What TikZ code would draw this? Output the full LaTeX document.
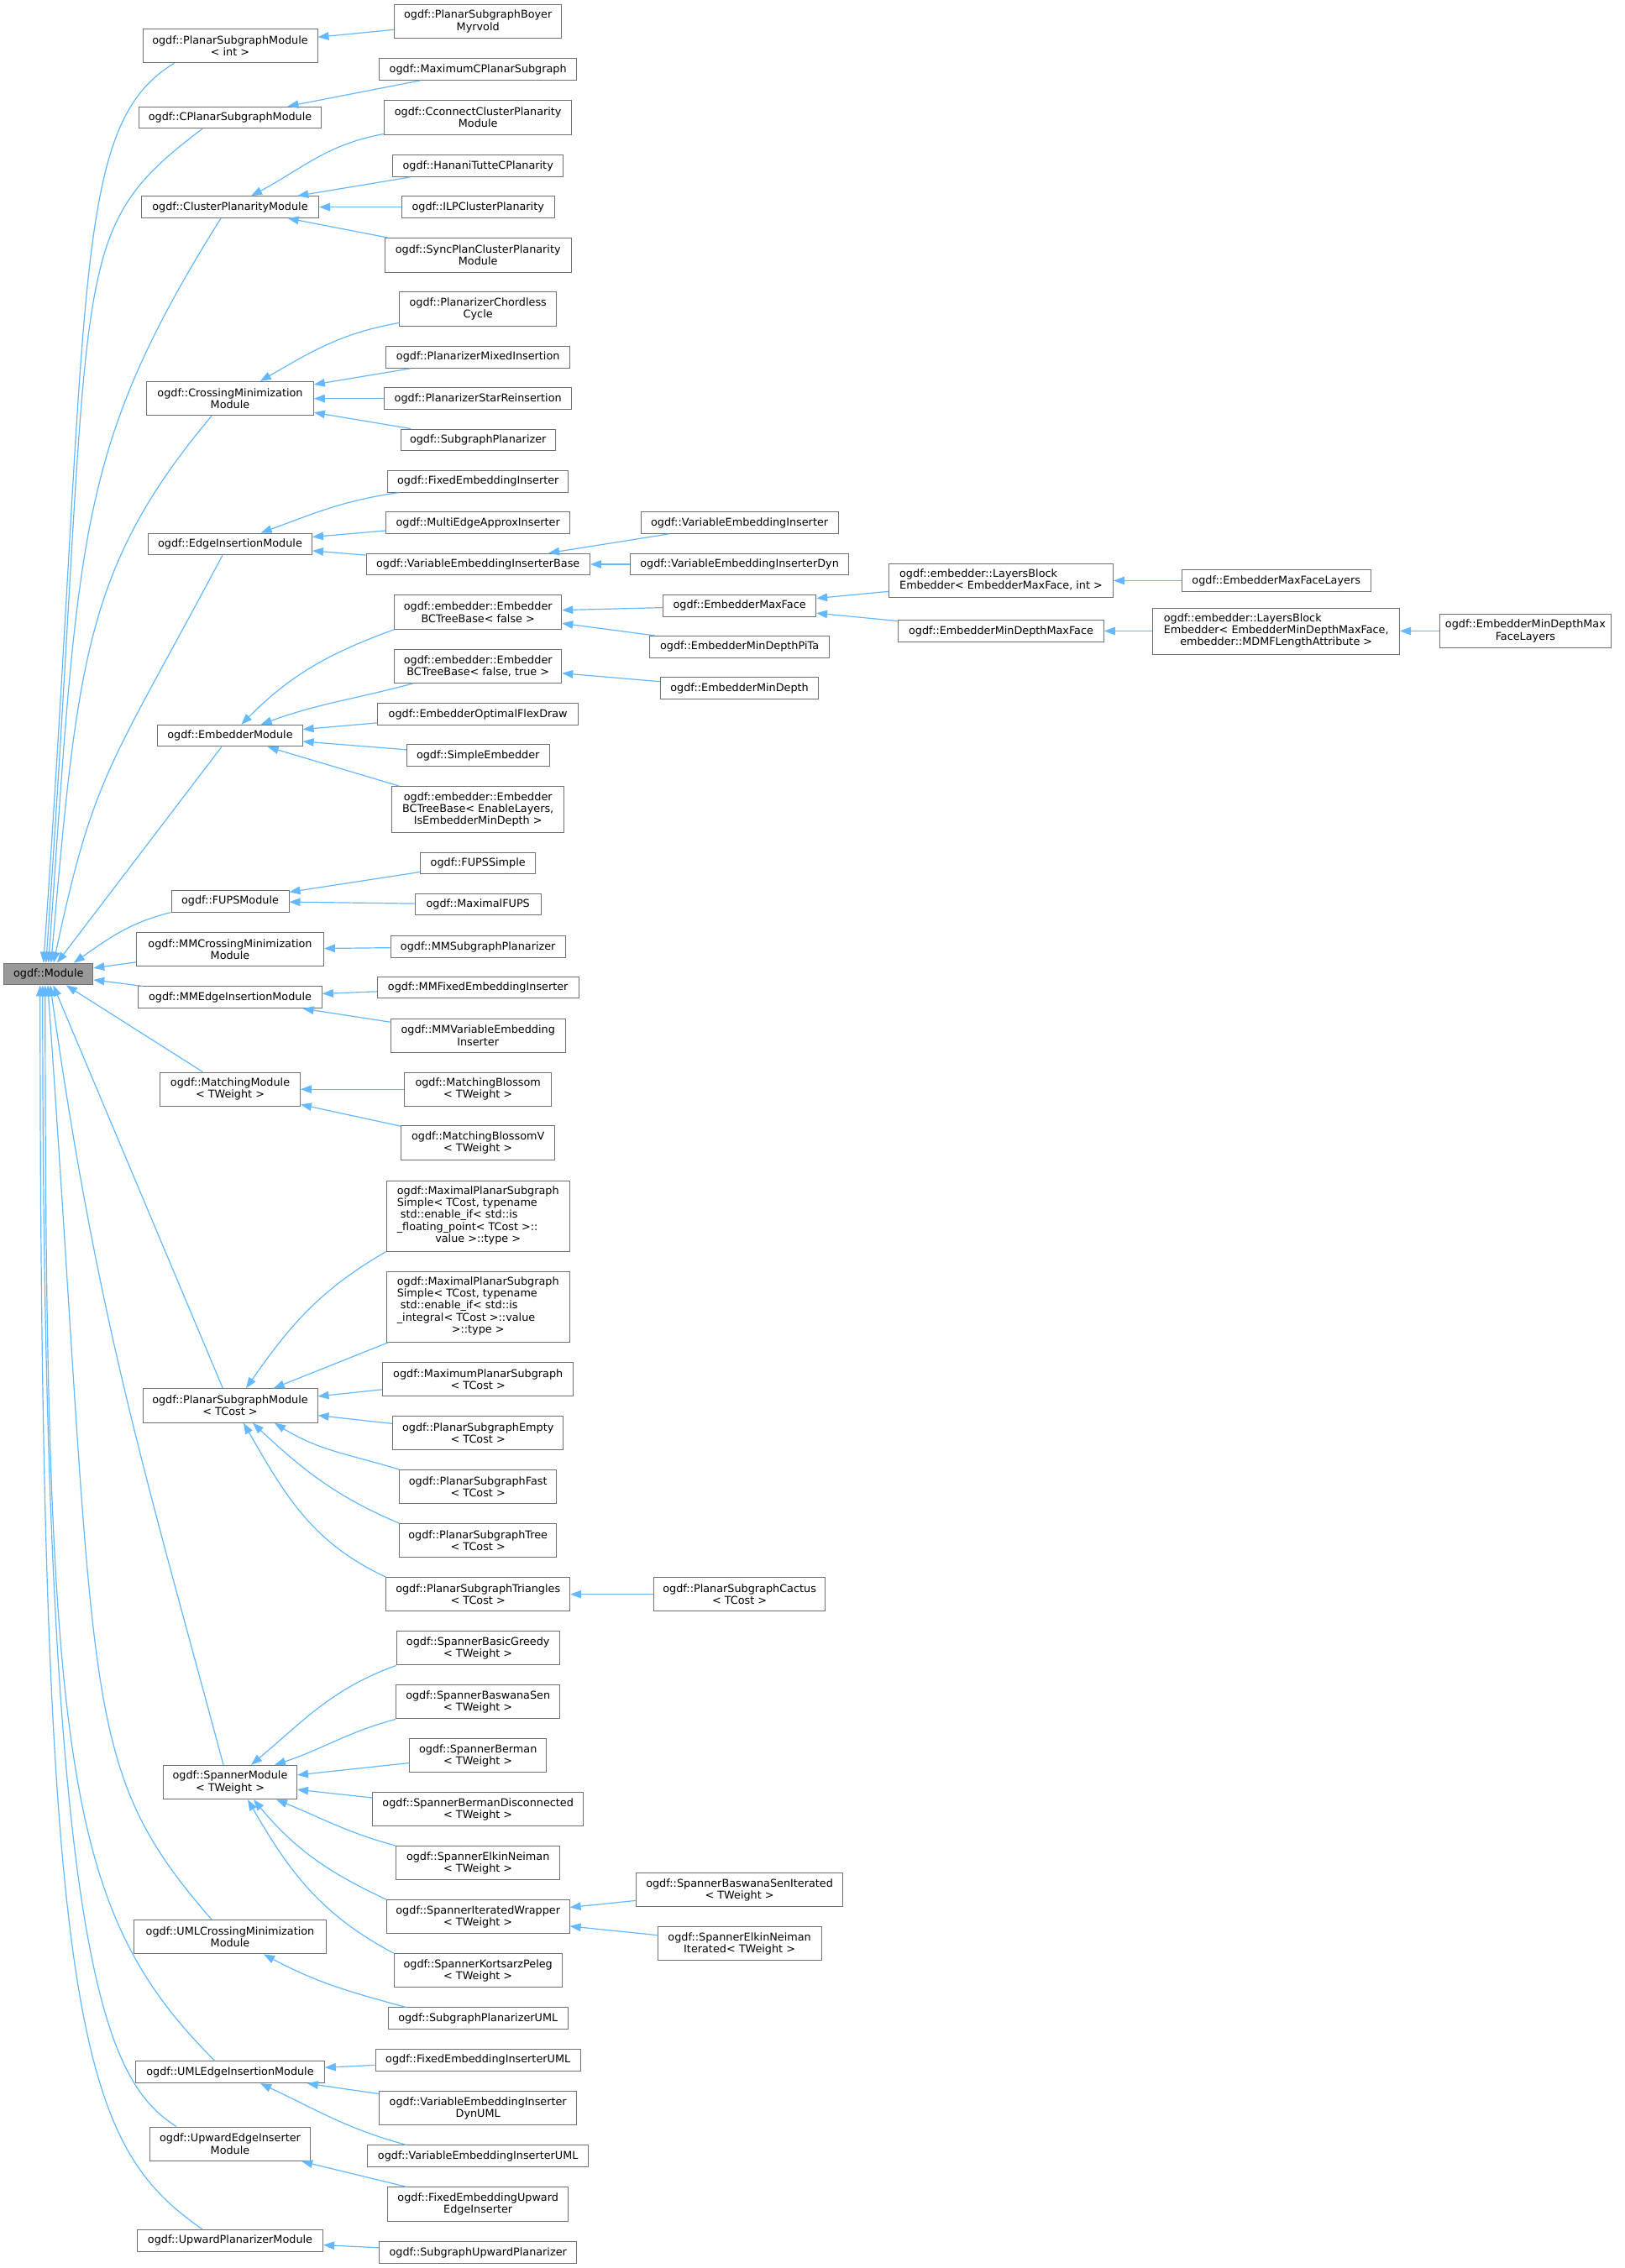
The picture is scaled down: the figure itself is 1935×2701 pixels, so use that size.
\documentclass[tikz,border=0pt]{standalone}
\usepackage{fontspec}
\setmainfont{DejaVu Sans}
\usetikzlibrary{arrows.meta}
\definecolor{edgeblue}{HTML}{63B8FF}
\definecolor{boxgray}{HTML}{707070}
\definecolor{rootfill}{HTML}{999999}
\newcommand{\leftlines}[1]{\begin{tabular}{@{}l@{}}#1\end{tabular}}
\newcommand{\midline}[1]{\multicolumn{1}{@{}c@{}}{#1}}
\begin{document}
\begin{tikzpicture}[x=1pt,y=1pt,
  cls/.style={draw=boxgray, line width=1pt, rectangle, inner sep=1pt, align=center,
    font=\fontsize{12.8}{14.3}\selectfont},
  one/.style={cls, minimum height=25.7pt},
  two/.style={cls, minimum height=40.4pt},
  three/.style={cls, minimum height=55pt},
  five/.style={cls, minimum height=84pt},
  root/.style={one, fill=rootfill},
  inh/.style={draw=edgeblue, line width=1.2pt, -{Triangle[length=13pt,width=9.5pt]}}]
\fill[white] (0,0) rectangle (1935,-2701);
\useasboundingbox (0,0) rectangle (1935,-2701);

\node[root, minimum width=106pt] (module) at (57.8,-1160) {ogdf::Module};

\node[two, minimum width=208pt] (psmInt) at (274,-54.6) {ogdf::PlanarSubgraphModule\\< int >};
\node[one, minimum width=217.4pt] (cpsm) at (274,-140) {ogdf::CPlanarSubgraphModule};
\node[one, minimum width=211pt] (cpm) at (274,-246.6) {ogdf::ClusterPlanarityModule};
\node[two, minimum width=198.8pt] (cmm) at (274,-474.6) {ogdf::CrossingMinimization\\Module};
\node[one, minimum width=195pt] (eim) at (274,-647.9) {ogdf::EdgeInsertionModule};
\node[one, minimum width=172.3pt] (emb) at (274,-876.1) {ogdf::EmbedderModule};
\node[one, minimum width=140pt] (fups) at (274,-1073.2) {ogdf::FUPSModule};
\node[two, minimum width=222.8pt] (mmcm) at (274,-1130.7) {ogdf::MMCrossingMinimization\\Module};
\node[one, minimum width=218.7pt] (mmei) at (274,-1187.8) {ogdf::MMEdgeInsertionModule};
\node[two, minimum width=167pt] (match) at (274,-1297.2) {ogdf::MatchingModule\\< TWeight >};
\node[two, minimum width=208pt] (psmCost) at (274,-1674) {ogdf::PlanarSubgraphModule\\< TCost >};
\node[two, minimum width=159pt] (span) at (274,-2122.5) {ogdf::SpannerModule\\< TWeight >};
\node[two, minimum width=228.3pt] (umlcm) at (274,-2306.7) {ogdf::UMLCrossingMinimization\\Module};
\node[one, minimum width=224.7pt] (umlei) at (274,-2467.8) {ogdf::UMLEdgeInsertionModule};
\node[two, minimum width=190.9pt] (upei) at (274,-2553.3) {ogdf::UpwardEdgeInserter\\Module};
\node[one, minimum width=221.2pt] (upp) at (274,-2668.2) {ogdf::UpwardPlanarizerModule};

\node[two, minimum width=199pt] (boyer) at (569.2,-25.4) {ogdf::PlanarSubgraphBoyer\\Myrvold};
\node[one, minimum width=235pt] (maxcps) at (569.2,-82.5) {ogdf::MaximumCPlanarSubgraph};
\node[two, minimum width=222.8pt] (cconnect) at (569.2,-139.8) {ogdf::CconnectClusterPlanarity\\Module};
\node[one, minimum width=203pt] (hanani) at (569.2,-197.5) {ogdf::HananiTutteCPlanarity};
\node[one, minimum width=182pt] (ilp) at (569.2,-246.6) {ogdf::ILPClusterPlanarity};
\node[two, minimum width=222pt] (syncplan) at (569.2,-303.9) {ogdf::SyncPlanClusterPlanarity\\Module};
\node[two, minimum width=186.5pt] (chordless) at (569.2,-367.9) {ogdf::PlanarizerChordless\\Cycle};
\node[one, minimum width=219pt] (mixed) at (569.2,-425.4) {ogdf::PlanarizerMixedInsertion};
\node[one, minimum width=222.8pt] (starre) at (569.2,-474.6) {ogdf::PlanarizerStarReinsertion};
\node[one, minimum width=184pt] (subplan) at (569.2,-523.9) {ogdf::SubgraphPlanarizer};
\node[one, minimum width=214.5pt] (fixemb) at (569.2,-573.4) {ogdf::FixedEmbeddingInserter};
\node[one, minimum width=218.8pt] (multiedge) at (569.2,-622.5) {ogdf::MultiEdgeApproxInserter};
\node[one, minimum width=266.4pt] (varbase) at (569.2,-672) {ogdf::VariableEmbeddingInserterBase};
\node[two, minimum width=199pt] (bcfalse) at (569.2,-729.1) {ogdf::embedder::Embedder\\BCTreeBase< false >};
\node[two, minimum width=199pt] (bcfalsetrue) at (569.2,-793.2) {ogdf::embedder::Embedder\\BCTreeBase< false, true >};
\node[one, minimum width=238.8pt] (flexdraw) at (569.2,-850.5) {ogdf::EmbedderOptimalFlexDraw};
\node[one, minimum width=169.8pt] (simple) at (569.2,-899.6) {ogdf::SimpleEmbedder};
\node[three, minimum width=205.4pt] (bclayers) at (569.2,-964.1) {ogdf::embedder::Embedder\\BCTreeBase< EnableLayers,\\IsEmbedderMinDepth >};
\node[one, minimum width=137.4pt] (fupssimple) at (569.2,-1027.9) {ogdf::FUPSSimple};
\node[one, minimum width=149.8pt] (maxfups) at (569.2,-1077.1) {ogdf::MaximalFUPS};
\node[one, minimum width=208pt] (mmsub) at (569.2,-1127.5) {ogdf::MMSubgraphPlanarizer};
\node[one, minimum width=239.7pt] (mmfix) at (569.2,-1176) {ogdf::MMFixedEmbeddingInserter};
\node[two, minimum width=208.3pt] (mmvar) at (569.2,-1233.3) {ogdf::MMVariableEmbedding\\Inserter};
\node[two, minimum width=175.3pt] (blossom) at (569.2,-1297.2) {ogdf::MatchingBlossom\\< TWeight >};
\node[two, minimum width=183.3pt] (blossomv) at (569.2,-1361) {ogdf::MatchingBlossomV\\< TWeight >};
\node[five, minimum width=217.7pt] (mpsFloat) at (569.2,-1448) {\leftlines{ogdf::MaximalPlanarSubgraph\\Simple< TCost, typename\\\ std::enable\_if< std::is\\\_floating\_point< TCost >::\\\midline{value >::type >}}};
\node[five, minimum width=217.7pt] (mpsInt) at (569.2,-1556) {\leftlines{ogdf::MaximalPlanarSubgraph\\Simple< TCost, typename\\\ std::enable\_if< std::is\\\_integral< TCost >::value\\\midline{>::type >}}};
\node[two, minimum width=227.4pt] (maxps) at (569.2,-1642.7) {ogdf::MaximumPlanarSubgraph\\< TCost >};
\node[two, minimum width=203pt] (psEmpty) at (569.2,-1706.7) {ogdf::PlanarSubgraphEmpty\\< TCost >};
\node[two, minimum width=187pt] (psFast) at (569.2,-1770.7) {ogdf::PlanarSubgraphFast\\< TCost >};
\node[two, minimum width=187pt] (psTree) at (569.2,-1834.7) {ogdf::PlanarSubgraphTree\\< TCost >};
\node[two, minimum width=219pt] (psTri) at (569.2,-1898.7) {ogdf::PlanarSubgraphTriangles\\< TCost >};
\node[two, minimum width=194pt] (spGreedy) at (569.2,-1962.7) {ogdf::SpannerBasicGreedy\\< TWeight >};
\node[two, minimum width=195.3pt] (spBaswana) at (569.2,-2026.7) {ogdf::SpannerBaswanaSen\\< TWeight >};
\node[two, minimum width=163.3pt] (spBerman) at (569.2,-2090.7) {ogdf::SpannerBerman\\< TWeight >};
\node[two, minimum width=251pt] (spBermanDis) at (569.2,-2154.7) {ogdf::SpannerBermanDisconnected\\< TWeight >};
\node[two, minimum width=195.3pt] (spElkin) at (569.2,-2218.7) {ogdf::SpannerElkinNeiman\\< TWeight >};
\node[two, minimum width=217.7pt] (spIter) at (569.2,-2282.7) {ogdf::SpannerIteratedWrapper\\< TWeight >};
\node[two, minimum width=200.3pt] (spKortsarz) at (569.2,-2346.7) {ogdf::SpannerKortsarzPeleg\\< TWeight >};
\node[one, minimum width=214pt] (subplanUML) at (569.2,-2403.8) {ogdf::SubgraphPlanarizerUML};
\node[one, minimum width=244.3pt] (fixembUML) at (569.2,-2453.3) {ogdf::FixedEmbeddingInserterUML};
\node[two, minimum width=235pt] (varDynUML) at (569.2,-2510.7) {ogdf::VariableEmbeddingInserter\\DynUML};
\node[one, minimum width=263pt] (varUML) at (569.2,-2567.8) {ogdf::VariableEmbeddingInserterUML};
\node[two, minimum width=215pt] (fixUpward) at (569.2,-2625) {ogdf::FixedEmbeddingUpward\\EdgeInserter};
\node[one, minimum width=235pt] (subUpward) at (569.2,-2682.5) {ogdf::SubgraphUpwardPlanarizer};

\node[one, minimum width=235pt] (varEI) at (880.6,-622.5) {ogdf::VariableEmbeddingInserter};
\node[one, minimum width=260.4pt] (varEIDyn) at (880.6,-672) {ogdf::VariableEmbeddingInserterDyn};
\node[one, minimum width=182pt] (maxFace) at (880.6,-721.3) {ogdf::EmbedderMaxFace};
\node[one, minimum width=213.6pt] (minDepthPiTa) at (880.6,-770.3) {ogdf::EmbedderMinDepthPiTa};
\node[one, minimum width=188pt] (minDepth) at (880.6,-819.8) {ogdf::EmbedderMinDepth};
\node[two, minimum width=204.4pt] (cactus) at (880.6,-1898.7) {ogdf::PlanarSubgraphCactus\\< TCost >};
\node[two, minimum width=245.6pt] (bsIter) at (880.6,-2250.7) {ogdf::SpannerBaswanaSenIterated\\< TWeight >};
\node[two, minimum width=195pt] (enIter) at (880.6,-2314.7) {ogdf::SpannerElkinNeiman\\Iterated< TWeight >};

\node[two, minimum width=267pt] (lbMaxFace) at (1192,-691.5) {\leftlines{ogdf::embedder::LayersBlock\\Embedder< EmbedderMaxFace, int >}};
\node[one, minimum width=244.8pt] (minDepthMaxFace) at (1192,-751.5) {ogdf::EmbedderMinDepthMaxFace};
\node[one, minimum width=224.8pt] (maxFaceLayers) at (1519.7,-691.5) {ogdf::EmbedderMaxFaceLayers};
\node[three, minimum width=293.6pt] (lbMinDepth) at (1519.7,-751.5) {\leftlines{ogdf::embedder::LayersBlock\\Embedder< EmbedderMinDepthMaxFace,\\\midline{embedder::MDMFLengthAttribute >}}};
\node[two, minimum width=204.2pt] (minDepthMaxLayers) at (1816.4,-751.5) {ogdf::EmbedderMinDepthMax\\FaceLayers};

\draw[inh] (boyer) -- (psmInt);
\draw[inh] (maxcps) -- (cpsm);
\draw[inh] (cconnect) to[out=190, in=28] (cpm);
\draw[inh] (hanani) -- (cpm);
\draw[inh] (ilp) -- (cpm);
\draw[inh] (syncplan) -- (cpm);
\draw[inh] (chordless) to[out=190, in=30] (cmm);
\draw[inh] (mixed) -- (cmm);
\draw[inh] (starre) -- (cmm);
\draw[inh] (subplan) -- (cmm);
\draw[inh] (fixemb) to[out=188, in=20] (eim);
\draw[inh] (multiedge) -- (eim);
\draw[inh] (varbase) -- (eim);
\draw[inh] (varEI) -- (varbase);
\draw[inh] (varEIDyn) -- (varbase);
\draw[inh] (bcfalse.south west) to[out=200, in=45] (emb);
\draw[inh] (bcfalsetrue) to[out=195, in=20] (emb);
\draw[inh] (flexdraw) -- (emb);
\draw[inh] (simple) -- (emb);
\draw[inh] (bclayers) -- (emb);
\draw[inh] (maxFace) -- (bcfalse);
\draw[inh] (minDepthPiTa) -- (bcfalse);
\draw[inh] (minDepth) -- (bcfalsetrue);
\draw[inh] (lbMaxFace) -- (maxFace);
\draw[inh] (minDepthMaxFace) -- (maxFace);
\draw[inh] (maxFaceLayers) -- (lbMaxFace);
\draw[inh] (lbMinDepth) -- (minDepthMaxFace);
\draw[inh] (minDepthMaxLayers) -- (lbMinDepth);
\draw[inh] (fupssimple) -- (fups);
\draw[inh] (maxfups) -- (fups);
\draw[inh] (mmsub) -- (mmcm);
\draw[inh] (mmfix) -- (mmei);
\draw[inh] (mmvar) -- (mmei);
\draw[inh] (blossom) -- (match);
\draw[inh] (blossomv) -- (match);
\draw[inh] (mpsFloat.south west) to[out=210, in=55] ([xshift=19pt]psmCost.north);
\draw[inh] (mpsInt) -- (psmCost);
\draw[inh] (maxps) -- (psmCost);
\draw[inh] (psEmpty) -- (psmCost);
\draw[inh] (psFast.north west) to[out=163, in=-32] ([xshift=53pt]psmCost.south);
\draw[inh] (psTree.north west) to[out=157, in=-43] ([xshift=27pt]psmCost.south);
\draw[inh] (psTri.north west) to[out=155, in=-60] ([xshift=16pt]psmCost.south);
\draw[inh] (cactus) -- (psTri);
\draw[inh] (spGreedy.south west) to[out=200, in=40] ([xshift=25pt]span.north);
\draw[inh] (spBaswana.south west) to[out=195, in=18] ([xshift=53pt]span.north);
\draw[inh] (spBerman) -- (span);
\draw[inh] (spBermanDis) -- (span);
\draw[inh] (spElkin.north west) to[out=165, in=-22] ([xshift=55pt]span.south);
\draw[inh] (spIter.north west) to[out=155, in=-50] ([xshift=28pt]span.south);
\draw[inh] (spKortsarz.north west) to[out=152, in=-60] ([xshift=21pt]span.south);
\draw[inh] (bsIter) -- (spIter);
\draw[inh] (enIter) -- (spIter);
\draw[inh] ([xshift=22pt]subplanUML.north west) to[out=165, in=-28] ([xshift=40pt]umlcm.south);
\draw[inh] (fixembUML) -- (umlei);
\draw[inh] (varDynUML) -- (umlei);
\draw[inh] ([xshift=47pt]varUML.north west) to[out=165, in=-25] ([xshift=36pt]umlei.south);
\draw[inh] (fixUpward) -- (upei);
\draw[inh] (subUpward) -- (upp);

\draw[inh] ([xshift=38pt]psmInt.south west) .. controls +(211:144) and +(86:804) .. ([xshift=-6pt]module.north);
\draw[inh] ([xshift=-33pt]cpsm.south) .. controls +(217:208) and +(86:841) .. ([xshift=-3pt]module.north);
\draw[inh] ([xshift=-11pt]cpm.south) .. controls +(238:323) and +(86:514) .. (module.north);
\draw[inh] ([xshift=-22pt]cmm.south) .. controls +(230:234) and +(85:359) .. ([xshift=3pt]module.north);
\draw[inh] ([xshift=-9pt]eim.south) .. controls +(242:286) and +(78:231) .. ([xshift=6pt]module.north);
\draw[inh] (emb) -- (module);
\draw[inh] (fups.south west) to[out=194, in=35] ([xshift=30pt]module.north);
\draw[inh] (mmcm) -- (module);
\draw[inh] (mmei) -- (module);
\draw[inh] (match) -- (module);
\draw[inh] (psmCost) -- (module);
\draw[inh] ([xshift=-8pt]span.north) .. controls +(105:357) and +(-82:406) .. ([xshift=2pt]module.south);
\draw[inh] ([xshift=-22pt]umlcm.north) .. controls +(131:244) and +(-86:863) .. ([xshift=-1pt]module.south);
\draw[inh] ([xshift=-18pt]umlei.north) .. controls +(135:249) and +(-90:935) .. ([xshift=-4pt]module.south);
\draw[inh] ([xshift=32pt]upei.north west) .. controls +(147:100) and +(-90:1174) .. ([xshift=-7pt]module.south);
\draw[inh] ([xshift=78pt]upp.north west) .. controls +(145:177) and +(-90:1248) .. ([xshift=-10pt]module.south);
\end{tikzpicture}
\end{document}
